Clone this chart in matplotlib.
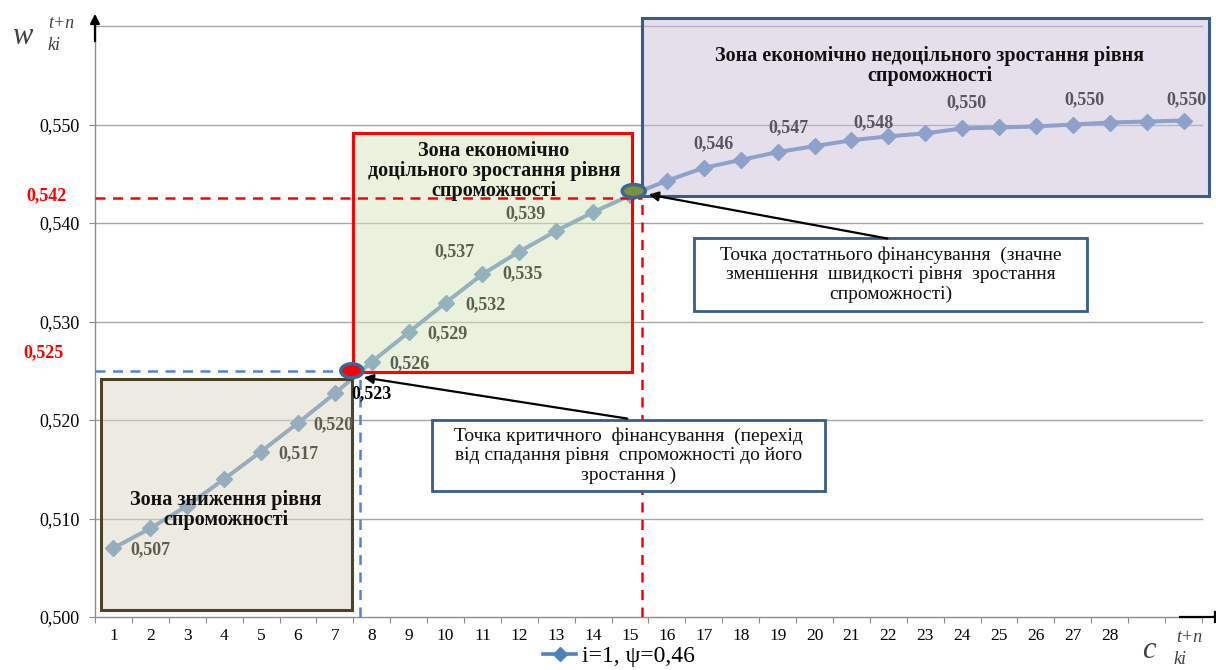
import numpy as np
import matplotlib
matplotlib.use("Agg")
import matplotlib.pyplot as plt
from matplotlib.patches import Rectangle, Ellipse
from matplotlib.lines import Line2D

# ---------------- data ----------------
categories = list(range(1, 31))
tick_labels = [str(i) for i in range(1, 29)] + ["", ""]
values = [0.5070, 0.5090, 0.5113, 0.5140, 0.5168, 0.5197, 0.5227, 0.5259,
          0.5289, 0.5319, 0.5348, 0.5371, 0.5392, 0.5411, 0.5428, 0.5443,
          0.5456, 0.5464, 0.5472, 0.5478, 0.5484, 0.5488, 0.5491, 0.5496,
          0.5497, 0.5498, 0.5500, 0.5502, 0.5503, 0.5504]
labelled = [1, 5, 6, 7, 8, 9, 10, 11, 12, 13, 17, 19, 21, 24, 27, 30]
series_name = "i=1, \u03c8=0,46"
yticks = [0.500, 0.510, 0.520, 0.530, 0.540, 0.550]
critical_x, critical_level = 7.46, 0.525
sufficient_x, sufficient_level = 15.1, 0.5425
critical_text = "0,525"
sufficient_text = "0,542"

plt.rcParams['font.family'] = ['Liberation Serif', 'DejaVu Serif']

W, H = 1216, 670
fig = plt.figure(figsize=(W / 100, H / 100), dpi=100)
L, R, B, T = 95, 1202, 617, 26
ax = fig.add_axes([L / W, 1 - B / H, (R - L) / W, (B - T) / H])
ax.set_xlim(0.5, 30.5)
ax.set_ylim(0.5, 0.56)

XPX = (R - L) / 30.0
YPX = (B - T) / 0.06


def px(x, y):
    """pixel (from top-left) -> data coords"""
    return 0.5 + (x - L) / XPX, 0.5 + (B - y) / YPX


# grid
for g in [0.51, 0.52, 0.53, 0.54, 0.55, 0.56]:
    ax.axhline(g, color='#a6a6a6', lw=1.0, zorder=1, clip_on=False)

for s in ['top', 'right']:
    ax.spines[s].set_visible(False)
for s in ['left', 'bottom']:
    ax.spines[s].set_color('#8c8c8c')
    ax.spines[s].set_linewidth(1.0)

ax.set_yticks(yticks)
ax.set_yticklabels([f"{v:.3f}".replace('.', ',') for v in yticks], fontsize=13)
ax.tick_params(axis='y', length=4, color='#8c8c8c', pad=7)
ax.set_xticks(np.arange(0.5, 30.6, 1.0))
ax.set_xticklabels([])
ax.tick_params(axis='x', which='major', length=4, color='#8c8c8c')
ax.set_xticks(categories, minor=True)
ax.set_xticklabels(tick_labels, minor=True, fontsize=12.5)
ax.tick_params(axis='x', which='minor', length=0, pad=8)

# series line
line_color = '#4F81BD'
ax.plot(categories, values, color=line_color, lw=2.9, marker='D', markersize=8,
        zorder=2, label=series_name)

# zone boxes (semi-transparent on top of line)
x0, y0 = px(101, 610); x1, y1 = px(352, 379)
ax.add_patch(Rectangle((x0, y0), x1 - x0, y1 - y0, facecolor=(0.867, 0.851, 0.769, 0.5),
                       edgecolor='#4A452A', lw=2.2, zorder=3))
x0, y0 = px(353, 372); x1, y1 = px(632, 133)
ax.add_patch(Rectangle((x0, y0), x1 - x0, y1 - y0, facecolor=(0.843, 0.894, 0.741, 0.5),
                       edgecolor='#FF0000', lw=2.2, zorder=3))
x0, y0 = px(642, 196); x1, y1 = px(1209, 18)
ax.add_patch(Rectangle((x0, y0), x1 - x0, y1 - y0, facecolor=(0.800, 0.757, 0.855, 0.5),
                       edgecolor='#385D8A', lw=2.2, zorder=3, clip_on=False))

# zone titles
bold = dict(fontsize=14.5, fontweight='bold', ha='center', va='center', zorder=7,
            linespacing=1.02, color='#111111')
ax.text(*px(226, 510), "Зона зниження рівня\nспроможності", **bold)
ax.text(*px(494, 171), "Зона економічно\nдоцільного зростання рівня\nспроможності", **bold)
ax.text(*px(930, 66), "Зона економічно недоцільного зростання рівня\nспроможності", **bold)

# dashed guide lines
ax.plot([0.5, critical_x], [critical_level, critical_level], color='#4A86D8', lw=1.8,
        ls=(0, (4, 3)), zorder=5, clip_on=False)
cvx = px(360, 0)[0]
ax.plot([cvx, cvx], [0.5, critical_level], color='#4A86D8', lw=1.8, ls=(0, (4, 3)), zorder=5)
svx = px(642, 0)[0]
ax.plot([0.5, svx], [sufficient_level, sufficient_level], color='#FF0000', lw=1.8,
        ls=(0, (4, 3)), zorder=5)
ax.plot([svx, svx], [0.5, sufficient_level], color='#FF0000', lw=1.8, ls=(0, (4, 3)), zorder=5)

# data labels
offsets = {1: (37, 2), 5: (37, 2), 6: (35, 2), 7: (37, 0), 8: (38, 2), 9: (39, 1),
           10: (40, 2), 11: (40, 0), 12: (-65, 0), 13: (-31, -17), 17: (10, -24),
           19: (11, -24), 21: (22, -18), 24: (4, -26), 27: (12, -25), 30: (3, -21)}
for c in labelled:
    v = values[c - 1]
    dx, dy = offsets[c]
    if c >= 16:
        col = '#57555e'
    elif c >= 8:
        col = '#5a6150'
    elif c == 7:
        col = '#000000'
    else:
        col = '#5f5c52'
    ax.annotate(f"{v:.3f}".replace('.', ','), (c, v), xytext=(dx * 0.72, -dy * 0.72),
                textcoords='offset points', ha='center', va='center', fontsize=13,
                fontweight='bold', color=col, zorder=6)

# special points
ax.add_patch(Ellipse((critical_x, critical_level), 22 / XPX, 14 / YPX, facecolor='#FF0000',
                     edgecolor='#3F6598', lw=2.5, zorder=8))
ax.add_patch(Ellipse((sufficient_x, px(0, 191)[1]), 23 / XPX, 13 / YPX, facecolor='#77933C',
                     edgecolor='#3F6598', lw=2.5, zorder=8))

# red axis labels
ax.text(*px(67, 196), sufficient_text, color='#FF0000', fontsize=13, fontweight='bold',
        ha='right', va='center', clip_on=False)
ax.text(*px(64, 353), critical_text, color='#FF0000', fontsize=13, fontweight='bold',
        ha='right', va='center', clip_on=False)

# callout boxes
box_kw = dict(fontsize=14, ha='center', va='center', linespacing=1.18, zorder=9,
              color='#111111')
x0, y0 = px(432, 491); x1, y1 = px(825, 420)
ax.add_patch(Rectangle((x0, y0), x1 - x0, y1 - y0, facecolor='white', edgecolor='#385D8A',
                       lw=2.0, zorder=8))
ax.text((x0 + x1) / 2, (y0 + y1) / 2,
        "Точка критичного  фінансування  (перехід\nвід спадання рівня  спроможності до його\nзростання )",
        **box_kw)
x0, y0 = px(694, 311); x1, y1 = px(1087, 238)
ax.add_patch(Rectangle((x0, y0), x1 - x0, y1 - y0, facecolor='white', edgecolor='#385D8A',
                       lw=2.0, zorder=8))
ax.text((x0 + x1) / 2, (y0 + y1) / 2,
        "Точка достатнього фінансування  (значне\nзменшення  швидкості рівня  зростання\nспроможності)",
        **box_kw)

# arrows
ax.annotate("", xy=px(361, 377), xytext=px(630, 419),
            arrowprops=dict(arrowstyle='-|>', color='black', lw=1.6, mutation_scale=14),
            zorder=9)
ax.annotate("", xy=px(646, 194), xytext=px(890, 239),
            arrowprops=dict(arrowstyle='-|>', color='black', lw=1.6, mutation_scale=14),
            zorder=9)

# axis arrows (figure pixel coords, origin bottom-left)
ax.annotate("", xy=(95, H - 11), xytext=(95, H - 44), xycoords='figure pixels',
            textcoords='figure pixels',
            arrowprops=dict(arrowstyle='-|>', color='black', lw=1.6, mutation_scale=14),
            annotation_clip=False)
fig.add_artist(Line2D([1180 / W, 1215 / W], [1 - 617 / H, 1 - 617 / H], color='black', lw=1.6))
fig.add_artist(Line2D([1215 / W, 1215 / W], [1 - 612 / H, 1 - 622 / H], color='black', lw=1.6))

# axis names
fig.text(22 / W, 1 - 37 / H, "w", fontsize=22, style='italic', color='#404040',
         ha='center', va='center')
fig.text(61 / W, 1 - 24 / H, "t+n", fontsize=13, style='italic', color='#404040',
         ha='center', va='center')
fig.text(54 / W, 1 - 45 / H, "ki", fontsize=13, style='italic', color='#404040',
         ha='center', va='center')
fig.text(1149 / W, 1 - 650 / H, "c", fontsize=22, style='italic', color='#404040',
         ha='center', va='center')
fig.text(1189 / W, 1 - 638 / H, "t+n", fontsize=13, style='italic', color='#404040',
         ha='center', va='center')
fig.text(1180 / W, 1 - 659 / H, "ki", fontsize=13, style='italic', color='#404040',
         ha='center', va='center')

# legend
fig.legend(handles=[Line2D([0], [0], color=line_color, lw=2.6, marker='D', markersize=7.5)],
           labels=[series_name], loc='center', bbox_to_anchor=(619 / W, 1 - 656 / H),
           frameon=False, fontsize=17, handlelength=1.4, handletextpad=0.25,
           borderpad=0, borderaxespad=0)

fig.savefig("out.png", dpi=100)
